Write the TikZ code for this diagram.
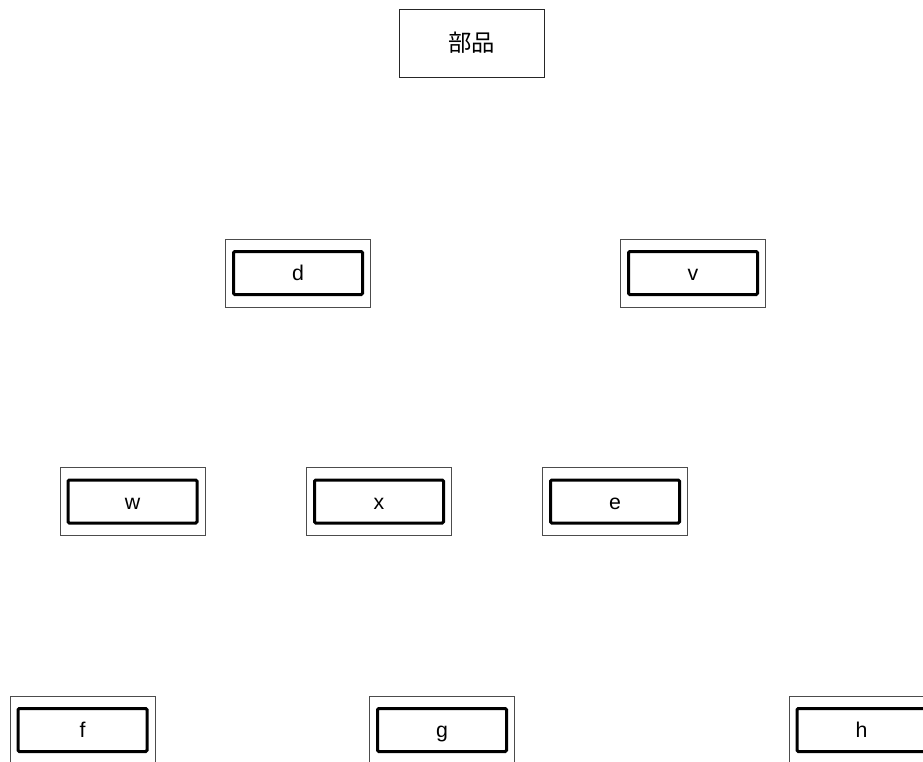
\documentclass[tikz,border=0pt]{standalone}
\usepackage{fontspec}
\setmainfont{Liberation Sans}
\newfontfamily\cjk{Noto Sans CJK JP}

\begin{document}
\begin{tikzpicture}[x=0.75pt,y=-0.75pt,
    outerbox/.style={draw=black!70,line width=0.75pt,minimum width=108.75pt,minimum height=51pt,inner sep=0pt},
    innerbox/.style={draw,line width=2.25pt,rounded corners=1pt,minimum width=96.75pt,minimum height=32.25pt,
      inner sep=0pt,text height=11.25pt,text depth=0pt,font=\fontsize{16}{19}\selectfont}]
    \useasboundingbox (0,0) rectangle (923,761);
    \clip (0,0) rectangle (923,761);
    \node[outerbox,draw=black!85,font=\cjk\fontsize{17.5}{20}\selectfont] (root) at (471.5,43) {部品};
    \foreach \name/\x/\y in {d/298/273,v/693/273,w/132.5/501.5,x/379/501.5,e/615/501.5,f/82.5/730,g/442/730,h/861.5/730} {
      \node[outerbox] (\name) at (\x,\y) {};
      \node[innerbox] (\name-in) at (\name) {\name};
    }
  \end{tikzpicture}
\end{document}
